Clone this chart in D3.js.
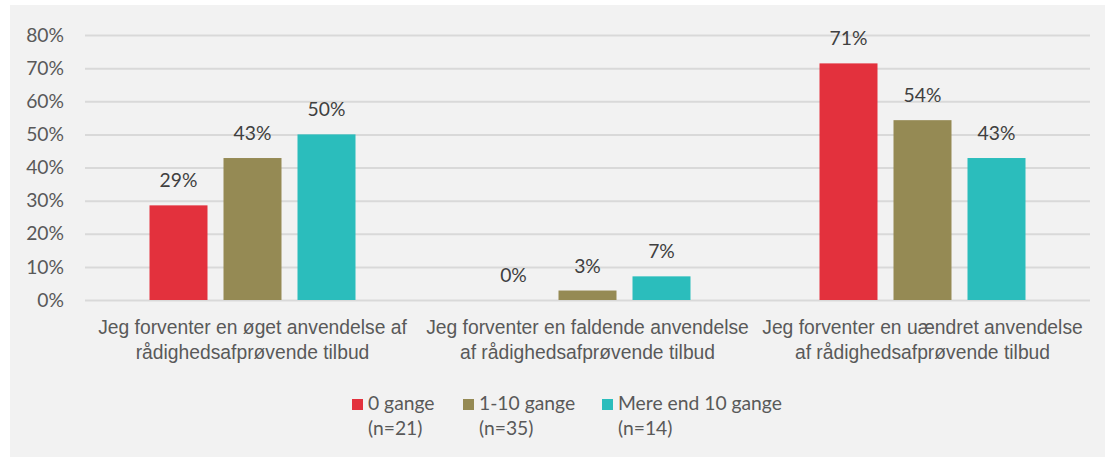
<!DOCTYPE html>
<html>
<head>
<meta charset="utf-8">
<script src="https://cdn.jsdelivr.net/npm/d3@7"></script>
<style>
  html, body { margin: 0; padding: 0; background: #ffffff; }
  svg { display: block; font-family: Lato, "Open Sans", sans-serif; }
</style>
</head>
<body>
<div id="chart"></div>
<script>
// ---- data ----
const categories = [
  "Jeg forventer en øget anvendelse af rådighedsafprøvende tilbud",
  "Jeg forventer en faldende anvendelse af rådighedsafprøvende tilbud",
  "Jeg forventer en uændret anvendelse af rådighedsafprøvende tilbud"
];
const categoryLines = [
  ["Jeg forventer en øget anvendelse af", "rådighedsafprøvende tilbud"],
  ["Jeg forventer en faldende anvendelse", "af rådighedsafprøvende tilbud"],
  ["Jeg forventer en uændret anvendelse", "af rådighedsafprøvende tilbud"]
];
const seriesNames = ["0 gange", "1-10 gange", "Mere end 10 gange"];
const seriesN = ["(n=21)", "(n=35)", "(n=14)"];
const values0 = [28.57, 0, 71.43];      // 0 gange
const values1 = [42.86, 2.86, 54.29];   // 1-10 gange
const values2 = [50.00, 7.14, 42.86];   // Mere end 10 gange
const yTicks = [0, 10, 20, 30, 40, 50, 60, 70, 80];
const colors = ["#E3313D", "#958A54", "#2BBDBC"];

const allValues = [values0, values1, values2];

// ---- layout ----
const W = 1105, H = 458;
const margin = { left: 85, right: 15, top: 35, bottom: 158 };
const plotW = W - margin.left - margin.right;
const plotH = H - margin.top - margin.bottom;
const FS = "19.3px";

const svg = d3.select("#chart").append("svg")
  .attr("width", W).attr("height", H);

// panel background
svg.append("rect").attr("x", 10).attr("y", 5).attr("width", 1095).attr("height", 452)
  .attr("fill", "#f2f2f2");

const g = svg.append("g").attr("transform", `translate(${margin.left},${margin.top})`);

const y = d3.scaleLinear().domain([0, 80]).range([plotH, 0]);
const x0 = d3.scaleBand().domain(categories).range([0, plotW]).padding(0);
const groupPad = 64.5;
const x1 = d3.scaleBand().domain(seriesNames)
  .range([groupPad, x0.bandwidth() - groupPad])
  .paddingInner(16 / 74).paddingOuter(0);

// gridlines + y axis
const yAxis = d3.axisLeft(y).tickValues(yTicks).tickFormat(d => d + "%")
  .tickSize(-plotW).tickPadding(21);
const yg = g.append("g").call(yAxis);
yg.select(".domain").remove();
yg.selectAll(".tick line").attr("stroke", "#d9d9d9").attr("stroke-width", 2);
yg.selectAll(".tick text").attr("fill", "#595959").style("font-size", FS)
  .style("font-family", "Lato, sans-serif");

// bars
const data = [];
categories.forEach((c, ci) => {
  seriesNames.forEach((s, si) => {
    data.push({ cat: c, series: s, si, value: allValues[si][ci] });
  });
});

const groups = g.append("g");
groups.selectAll("rect.bar").data(data.filter(d => d.value > 0)).join("rect")
  .attr("class", "bar")
  .attr("x", d => x0(d.cat) + x1(d.series))
  .attr("width", x1.bandwidth())
  .attr("y", d => y(d.value))
  .attr("height", d => y(0) - y(d.value))
  .attr("fill", d => colors[d.si]);

groups.selectAll("text.val").data(data).join("text")
  .attr("class", "val")
  .attr("x", d => x0(d.cat) + x1(d.series) + x1.bandwidth() / 2)
  .attr("y", d => y(d.value) - 18)
  .attr("text-anchor", "middle")
  .attr("fill", "#404040")
  .style("font-size", FS)
  .text(d => Math.round(d.value) + "%");

// category axis
const xAxis = d3.axisBottom(x0).tickSize(0).tickFormat("");
const xg = g.append("g").attr("transform", `translate(0,${plotH})`).call(xAxis);
xg.select(".domain").remove();
xg.selectAll(".tick").each(function (d, i) {
  const t = d3.select(this).append("text")
    .attr("text-anchor", "middle")
    .attr("fill", "#595959")
    .style("font-size", FS);
  categoryLines[i].forEach((line, li) => {
    t.append("tspan").attr("x", 0).attr("y", 34 + li * 25).text(line);
  });
});

// legend
const legendX = [352, 463, 602];
const legend = svg.append("g");
seriesNames.forEach((s, i) => {
  const lg = legend.append("g").attr("transform", `translate(${legendX[i]},0)`);
  lg.append("rect").attr("x", 0).attr("y", 399).attr("width", 11).attr("height", 11)
    .attr("fill", colors[i]);
  const t = lg.append("text").attr("fill", "#595959").style("font-size", FS);
  t.append("tspan").attr("x", 16).attr("y", 410).text(s);
  t.append("tspan").attr("x", 16).attr("y", 435).text(seriesN[i]);
});
</script>
</body>
</html>
